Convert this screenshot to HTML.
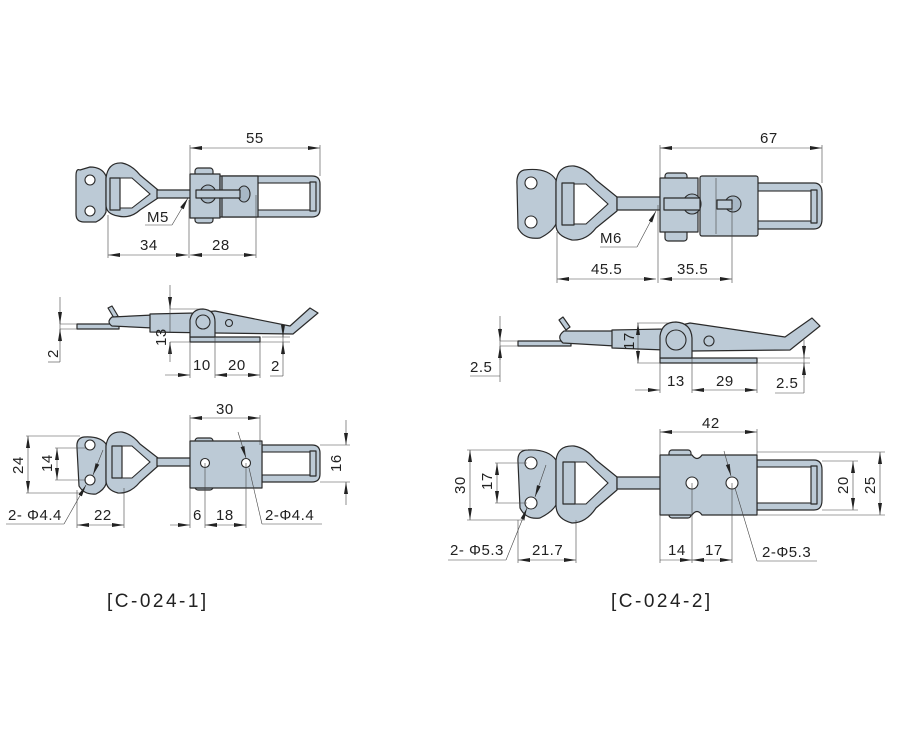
<!DOCTYPE html>
<html><head><meta charset="utf-8"><style>
html,body{margin:0;padding:0;background:#fff}
svg{display:block}
text{font-family:"Liberation Sans",sans-serif;font-size:15px;fill:#222;letter-spacing:0.5px}
.p{fill:#bccad6;stroke:#2a2a2a;stroke-width:1.2;stroke-linejoin:round}
.w{fill:#fff;stroke:#2a2a2a;stroke-width:1.1}
.d{fill:none;stroke:#444;stroke-width:0.6}
.cap{font-size:19px;letter-spacing:2.5px}
</style></head><body>
<svg width="922" height="732" viewBox="0 0 922 732" xmlns="http://www.w3.org/2000/svg">
<defs>
<marker id="a" markerWidth="12" markerHeight="6" refX="12" refY="3" orient="auto-start-reverse" markerUnits="userSpaceOnUse"><path d="M0,1 L12,3 L0,5z" fill="#222"/></marker>
</defs>

<!-- ============ LEFT TOP VIEW ============ -->
<path class="p" d="M80,170 Q76,168 76,176 L76,214 Q76,222 84,222 L96,222 Q104,218 106,212 L106,176 Q102,167 90,167 Z"/>
<circle class="w" cx="90" cy="180" r="5"/><circle class="w" cx="90" cy="211" r="5"/>
<path class="p" d="M106,178 Q108,162 122,163 Q132,165 140,175 L158,190 L158,198 L140,210 Q130,219 118,216 Q106,214 106,205 Z"/>
<path class="w" d="M113,178 L132,178 L150,194 L132,208 L113,208 Z" style="fill:#fff"/>
<rect class="p" x="110" y="178" width="10" height="32"/>
<rect class="p" x="157" y="190" width="35" height="8"/>
<rect class="p" x="195" y="168" width="18" height="55" rx="3"/>
<rect class="p" x="190" y="174" width="30" height="44"/>
<path class="p" d="M220,176 L312,176 Q320,176 320,184 L320,209 Q320,217 312,217 L220,217 Z"/>
<rect class="w" x="258" y="183" width="55" height="27" style="fill:#fff"/>
<rect class="p" x="310" y="182" width="6" height="29"/>
<rect class="p" x="222" y="176" width="36" height="41"/>
<ellipse class="w" cx="208" cy="194" rx="8" ry="9" style="fill:#a8b8c6"/>
<ellipse class="w" cx="244" cy="194" rx="6" ry="8" style="fill:#a8b8c6"/>
<rect class="p" x="196" y="190" width="44" height="8"/>
<line class="d" x1="190" y1="145" x2="190" y2="174"/><line class="d" x1="320" y1="145" x2="320" y2="176"/>
<line class="d" x1="190" y1="148" x2="320" y2="148" marker-start="url(#a)" marker-end="url(#a)"/>
<text x="246" y="143">55</text>
<line class="d" x1="108" y1="215" x2="108" y2="258"/><line class="d" x1="189" y1="200" x2="189" y2="258"/><line class="d" x1="256" y1="195" x2="256" y2="258"/>
<line class="d" x1="108" y1="255" x2="188" y2="255" marker-start="url(#a)" marker-end="url(#a)"/>
<line class="d" x1="190" y1="255" x2="256" y2="255" marker-start="url(#a)" marker-end="url(#a)"/>
<text x="140" y="250">34</text><text x="212" y="250">28</text>
<line class="d" x1="145" y1="225" x2="172" y2="225"/><line class="d" x1="172" y1="225" x2="188" y2="198" marker-end="url(#a)"/>
<text x="147" y="222">M5</text>

<!-- ============ LEFT SIDE VIEW ============ -->
<rect class="p" x="77" y="324" width="42" height="5"/>
<path class="p" d="M108,308 L112,306 L118,316 L114,318 Z"/>
<path class="p" d="M112,317 Q106,322 112,326 L153,328 L153,315 Z"/>
<path class="p" d="M150,314 L195,313 L215,311 L290,326 L310,308 L318,313 L293,334 L215,333 L150,332 Z"/>
<rect class="p" x="190" y="337" width="70" height="5"/>
<path class="p" d="M190,337 L190,320 Q192,309 203,309 Q215,310 215,322 L215,337 Z"/>
<circle class="w" cx="203" cy="322" r="7" style="fill:#bccad6"/>
<circle class="w" cx="229" cy="323" r="3.5" style="fill:#bccad6"/>
<line class="d" x1="60" y1="297" x2="60" y2="362"/><line class="d" x1="60" y1="324" x2="77" y2="324"/><line class="d" x1="60" y1="329" x2="77" y2="329"/>
<line class="d" x1="60" y1="312" x2="60" y2="324" marker-end="url(#a)"/><line class="d" x1="60" y1="342" x2="60" y2="329" marker-end="url(#a)"/>
<line class="d" x1="48" y1="362" x2="60" y2="362"/>
<text transform="translate(58,358) rotate(-90)">2</text>
<line class="d" x1="170" y1="285" x2="170" y2="332"/><line class="d" x1="170" y1="309" x2="200" y2="309"/><line class="d" x1="170" y1="342" x2="190" y2="342"/>
<line class="d" x1="170" y1="300" x2="170" y2="309" marker-end="url(#a)"/><line class="d" x1="170" y1="352" x2="170" y2="342" marker-end="url(#a)"/>
<line class="d" x1="170" y1="342" x2="170" y2="362"/>
<text transform="translate(166,346) rotate(-90)">13</text>
<line class="d" x1="190" y1="342" x2="190" y2="378"/><line class="d" x1="215" y1="337" x2="215" y2="378"/><line class="d" x1="260" y1="342" x2="260" y2="378"/>
<line class="d" x1="165" y1="375" x2="190" y2="375" marker-end="url(#a)"/>
<line class="d" x1="215" y1="375" x2="260" y2="375" marker-start="url(#a)" marker-end="url(#a)"/>
<text x="193" y="370">10</text><text x="228" y="370">20</text>
<line class="d" x1="283" y1="326" x2="283" y2="376"/><line class="d" x1="260" y1="342" x2="290" y2="342"/><line class="d" x1="262" y1="337" x2="290" y2="337"/>
<line class="d" x1="283" y1="325" x2="283" y2="337" marker-end="url(#a)"/><line class="d" x1="283" y1="355" x2="283" y2="342" marker-end="url(#a)"/>
<line class="d" x1="270" y1="376" x2="283" y2="376"/>
<text x="271" y="371">2</text>

<!-- ============ LEFT BOTTOM VIEW ============ -->
<path class="p" d="M84,437 Q76,438 77,448 L79,486 Q84,495 96,494 Q104,490 106,484 L106,444 Q100,436 84,437 Z"/>
<circle class="w" cx="90" cy="445" r="5"/><circle class="w" cx="90" cy="480" r="5"/>
<path class="p" d="M106,446 Q108,431 122,432 Q132,434 140,444 L158,458 L158,466 L140,482 Q130,494 118,493 Q106,490 106,480 Z"/>
<path d="M118,446 L132,446 L150,462 L132,478 L118,478 Z" fill="#fff" stroke="#2a2a2a" stroke-width="1.1"/>
<rect class="p" x="112" y="446" width="10" height="32"/>
<rect class="p" x="157" y="458" width="35" height="8"/>
<rect class="p" x="195" y="438" width="18" height="52" rx="3"/>
<path class="p" d="M262,445 L312,445 Q320,445 320,453 L320,474 Q320,482 312,482 L262,482 Z"/>
<rect x="262" y="452" width="50" height="23" fill="#fff" stroke="#2a2a2a" stroke-width="1.1"/>
<rect class="p" x="310" y="451" width="6" height="25"/>
<rect class="p" x="190" y="441" width="72" height="47"/>
<circle class="w" cx="205" cy="463" r="4.5"/><circle class="w" cx="246" cy="463" r="4.5"/>
<line class="d" x1="190" y1="415" x2="190" y2="441"/><line class="d" x1="260" y1="415" x2="260" y2="445"/>
<line class="d" x1="190" y1="418" x2="260" y2="418" marker-start="url(#a)" marker-end="url(#a)"/>
<text x="216" y="414">30</text>
<line class="d" x1="26" y1="436" x2="80" y2="436"/><line class="d" x1="26" y1="493" x2="80" y2="493"/>
<line class="d" x1="28" y1="436" x2="28" y2="493" marker-start="url(#a)" marker-end="url(#a)"/>
<text transform="translate(23,474) rotate(-90)">24</text>
<line class="d" x1="55" y1="448" x2="86" y2="448"/><line class="d" x1="55" y1="480" x2="86" y2="480"/>
<line class="d" x1="57" y1="448" x2="57" y2="480" marker-start="url(#a)" marker-end="url(#a)"/>
<text transform="translate(52,472) rotate(-90)">14</text>
<line class="d" x1="320" y1="445" x2="350" y2="445"/><line class="d" x1="320" y1="482" x2="350" y2="482"/>
<line class="d" x1="346" y1="420" x2="346" y2="445" marker-end="url(#a)"/><line class="d" x1="346" y1="505" x2="346" y2="482" marker-end="url(#a)"/>
<text transform="translate(341,472) rotate(-90)">16</text>
<line class="d" x1="6" y1="524" x2="64" y2="524"/><line class="d" x1="64" y1="524" x2="86" y2="485" marker-end="url(#a)"/>
<line class="d" x1="103" y1="450" x2="93" y2="475" marker-end="url(#a)"/>
<text x="8" y="520">2- Φ4.4</text>
<line class="d" x1="77" y1="490" x2="77" y2="528"/><line class="d" x1="124" y1="488" x2="124" y2="528"/>
<line class="d" x1="77" y1="525" x2="124" y2="525" marker-start="url(#a)" marker-end="url(#a)"/>
<text x="94" y="520">22</text>
<line class="d" x1="190" y1="488" x2="190" y2="528"/><line class="d" x1="205" y1="463" x2="205" y2="528"/><line class="d" x1="246" y1="463" x2="246" y2="528"/>
<line class="d" x1="170" y1="525" x2="190" y2="525" marker-end="url(#a)"/>
<line class="d" x1="205" y1="525" x2="246" y2="525" marker-start="url(#a)" marker-end="url(#a)"/>
<text x="193" y="520">6</text><text x="216" y="520">18</text>
<line class="d" x1="238" y1="432" x2="246" y2="458" marker-end="url(#a)"/>
<line class="d" x1="249" y1="468" x2="262" y2="524"/><line class="d" x1="262" y1="524" x2="322" y2="524"/>
<text x="265" y="520">2-Φ4.4</text>

<text class="cap" x="107" y="607">[C-024-1]</text>

<!-- ============ RIGHT TOP VIEW ============ -->
<path class="p" d="M524,170 Q516,172 517,185 L518,228 Q524,240 540,238 Q552,232 556,224 L556,180 Q548,167 524,170 Z"/>
<circle class="w" cx="531" cy="183" r="6"/><circle class="w" cx="531" cy="222" r="6"/>
<path class="p" d="M556,182 Q558,165 574,166 Q586,168 596,180 L617,197 L617,211 L596,228 Q586,241 572,240 Q556,236 556,225 Z"/>
<path d="M570,184 L586,184 L608,204 L586,224 L570,224 Z" fill="#fff" stroke="#2a2a2a" stroke-width="1.1"/>
<rect class="p" x="562" y="183" width="12" height="42"/>
<rect class="p" x="617" y="197" width="44" height="13"/>
<rect class="p" x="665" y="173" width="22" height="68" rx="3"/>
<path class="p" d="M757,183 L814,183 Q822,183 822,193 L822,219 Q822,229 814,229 L757,229 Z"/>
<rect x="757" y="191" width="58" height="30" fill="#fff" stroke="#2a2a2a" stroke-width="1.1"/>
<rect class="p" x="811" y="190" width="6" height="33"/>
<rect class="p" x="660" y="178" width="38" height="54"/>
<rect class="p" x="700" y="176" width="58" height="60" rx="2"/>
<line class="d" x1="716" y1="178" x2="716" y2="234"/>
<ellipse class="w" cx="692" cy="204" rx="9" ry="10" style="fill:#a8b8c6"/>
<circle class="w" cx="733" cy="204" r="8" style="fill:#a8b8c6"/>
<rect class="p" x="664" y="198" width="36" height="12"/>
<rect class="p" x="717" y="200" width="15" height="9"/>
<line class="d" x1="660" y1="145" x2="660" y2="178"/><line class="d" x1="822" y1="145" x2="822" y2="183"/>
<line class="d" x1="660" y1="148" x2="822" y2="148" marker-start="url(#a)" marker-end="url(#a)"/>
<text x="760" y="143">67</text>
<line class="d" x1="557" y1="232" x2="557" y2="283"/><line class="d" x1="658" y1="205" x2="658" y2="283"/><line class="d" x1="732" y1="204" x2="732" y2="283"/>
<line class="d" x1="557" y1="279" x2="656" y2="279" marker-start="url(#a)" marker-end="url(#a)"/>
<line class="d" x1="660" y1="279" x2="732" y2="279" marker-start="url(#a)" marker-end="url(#a)"/>
<text x="591" y="274">45.5</text><text x="677" y="274">35.5</text>
<line class="d" x1="600" y1="247" x2="637" y2="247"/><line class="d" x1="637" y1="247" x2="656" y2="211" marker-end="url(#a)"/>
<text x="600" y="243">M6</text>

<!-- ============ RIGHT SIDE VIEW ============ -->
<rect class="p" x="518" y="341" width="53" height="5"/>
<path class="p" d="M559,320 L563,317 L570,327 L566,330 Z"/>
<path class="p" d="M564,331 Q556,337 563,343 L615,346 L615,331 Z"/>
<path class="p" d="M612,330 L665,329 L690,323 L785,337 L812,318 L820,326 L790,350 L692,351 L612,348 Z"/>
<rect class="p" x="660" y="358" width="97" height="5"/>
<path class="p" d="M660,358 L660,336 Q662,322 676,322 Q691,323 692,338 L692,358 Z"/>
<circle class="w" cx="676" cy="340" r="10" style="fill:#bccad6"/>
<circle class="w" cx="709" cy="341" r="5" style="fill:#bccad6"/>
<line class="d" x1="500" y1="316" x2="500" y2="382"/><line class="d" x1="500" y1="341" x2="518" y2="341"/><line class="d" x1="500" y1="346" x2="518" y2="346"/>
<line class="d" x1="500" y1="328" x2="500" y2="341" marker-end="url(#a)"/><line class="d" x1="500" y1="360" x2="500" y2="346" marker-end="url(#a)"/>
<line class="d" x1="470" y1="376" x2="500" y2="376"/>
<text x="470" y="372">2.5</text>
<line class="d" x1="637" y1="323" x2="670" y2="323"/><line class="d" x1="637" y1="363" x2="660" y2="363"/>
<line class="d" x1="638" y1="323" x2="638" y2="363" marker-start="url(#a)" marker-end="url(#a)"/>
<text transform="translate(634,350) rotate(-90)">17</text>
<line class="d" x1="660" y1="363" x2="660" y2="393"/><line class="d" x1="692" y1="358" x2="692" y2="393"/><line class="d" x1="757" y1="363" x2="757" y2="393"/>
<line class="d" x1="635" y1="390" x2="660" y2="390" marker-end="url(#a)"/>
<line class="d" x1="692" y1="390" x2="757" y2="390" marker-start="url(#a)" marker-end="url(#a)"/>
<text x="667" y="386">13</text><text x="716" y="386">29</text>
<line class="d" x1="804" y1="340" x2="804" y2="393"/><line class="d" x1="757" y1="358" x2="810" y2="358"/><line class="d" x1="757" y1="363" x2="810" y2="363"/>
<line class="d" x1="804" y1="345" x2="804" y2="358" marker-end="url(#a)"/><line class="d" x1="804" y1="378" x2="804" y2="363" marker-end="url(#a)"/>
<line class="d" x1="775" y1="393" x2="804" y2="393"/>
<text x="776" y="388">2.5</text>

<!-- ============ RIGHT BOTTOM VIEW ============ -->
<path class="p" d="M528,450 Q517,450 518,462 L520,508 Q526,520 540,518 Q552,512 556,505 L556,460 Q548,449 528,450 Z"/>
<circle class="w" cx="531" cy="463" r="6"/><circle class="w" cx="531" cy="503" r="6"/>
<path class="p" d="M556,460 Q558,445 574,446 Q586,448 596,460 L617,477 L617,490 L596,508 Q586,523 572,523 Q556,519 556,505 Z"/>
<path d="M570,462 L586,462 L608,483 L586,504 L570,504 Z" fill="#fff" stroke="#2a2a2a" stroke-width="1.1"/>
<rect class="p" x="563" y="462" width="12" height="42"/>
<rect class="p" x="617" y="477" width="44" height="12"/>
<rect class="p" x="669" y="450" width="22" height="68" rx="3"/>
<path class="p" d="M757,460 L814,460 Q822,460 822,470 L822,500 Q822,510 814,510 L757,510 Z"/>
<rect x="757" y="467" width="58" height="36" fill="#fff" stroke="#2a2a2a" stroke-width="1.1"/>
<rect class="p" x="811" y="466" width="6" height="38"/>
<path class="p" d="M660,455 L692,455 Q697,462 702,455 L757,455 L757,515 L702,515 Q697,508 692,515 L660,515 Z"/>
<circle class="w" cx="692" cy="483" r="6"/><circle class="w" cx="732" cy="483" r="6"/>
<line class="d" x1="660" y1="429" x2="660" y2="455"/><line class="d" x1="757" y1="429" x2="757" y2="455"/>
<line class="d" x1="660" y1="432" x2="757" y2="432" marker-start="url(#a)" marker-end="url(#a)"/>
<text x="702" y="428">42</text>
<line class="d" x1="467" y1="450" x2="528" y2="450"/><line class="d" x1="467" y1="520" x2="525" y2="520"/>
<line class="d" x1="470" y1="450" x2="470" y2="520" marker-start="url(#a)" marker-end="url(#a)"/>
<text transform="translate(465,494) rotate(-90)">30</text>
<line class="d" x1="495" y1="463" x2="527" y2="463"/><line class="d" x1="495" y1="503" x2="527" y2="503"/>
<line class="d" x1="497" y1="463" x2="497" y2="503" marker-start="url(#a)" marker-end="url(#a)"/>
<text transform="translate(492,490) rotate(-90)">17</text>
<line class="d" x1="822" y1="461" x2="858" y2="461"/><line class="d" x1="822" y1="510" x2="858" y2="510"/>
<line class="d" x1="853" y1="461" x2="853" y2="510" marker-start="url(#a)" marker-end="url(#a)"/>
<text transform="translate(848,494) rotate(-90)">20</text>
<line class="d" x1="757" y1="452" x2="885" y2="452"/><line class="d" x1="757" y1="515" x2="885" y2="515"/>
<line class="d" x1="880" y1="452" x2="880" y2="515" marker-start="url(#a)" marker-end="url(#a)"/>
<text transform="translate(875,494) rotate(-90)">25</text>
<line class="d" x1="448" y1="560" x2="506" y2="560"/><line class="d" x1="506" y1="560" x2="527" y2="508" marker-end="url(#a)"/>
<line class="d" x1="546" y1="465" x2="535" y2="497" marker-end="url(#a)"/>
<text x="450" y="555">2- Φ5.3</text>
<line class="d" x1="518" y1="520" x2="518" y2="563"/><line class="d" x1="576" y1="520" x2="576" y2="563"/>
<line class="d" x1="518" y1="560" x2="576" y2="560" marker-start="url(#a)" marker-end="url(#a)"/>
<text x="532" y="555">21.7</text>
<line class="d" x1="660" y1="515" x2="660" y2="563"/><line class="d" x1="692" y1="483" x2="692" y2="563"/><line class="d" x1="732" y1="483" x2="732" y2="563"/>
<line class="d" x1="660" y1="560" x2="692" y2="560" marker-end="url(#a)"/>
<line class="d" x1="692" y1="560" x2="732" y2="560" marker-start="url(#a)" marker-end="url(#a)"/>
<text x="668" y="555">14</text><text x="705" y="555">17</text>
<line class="d" x1="724" y1="451" x2="731" y2="476" marker-end="url(#a)"/>
<line class="d" x1="735" y1="488" x2="757" y2="561"/><line class="d" x1="757" y1="561" x2="817" y2="561"/>
<text x="762" y="557">2-Φ5.3</text>

<text class="cap" x="611" y="607">[C-024-2]</text>
</svg>
</body></html>
